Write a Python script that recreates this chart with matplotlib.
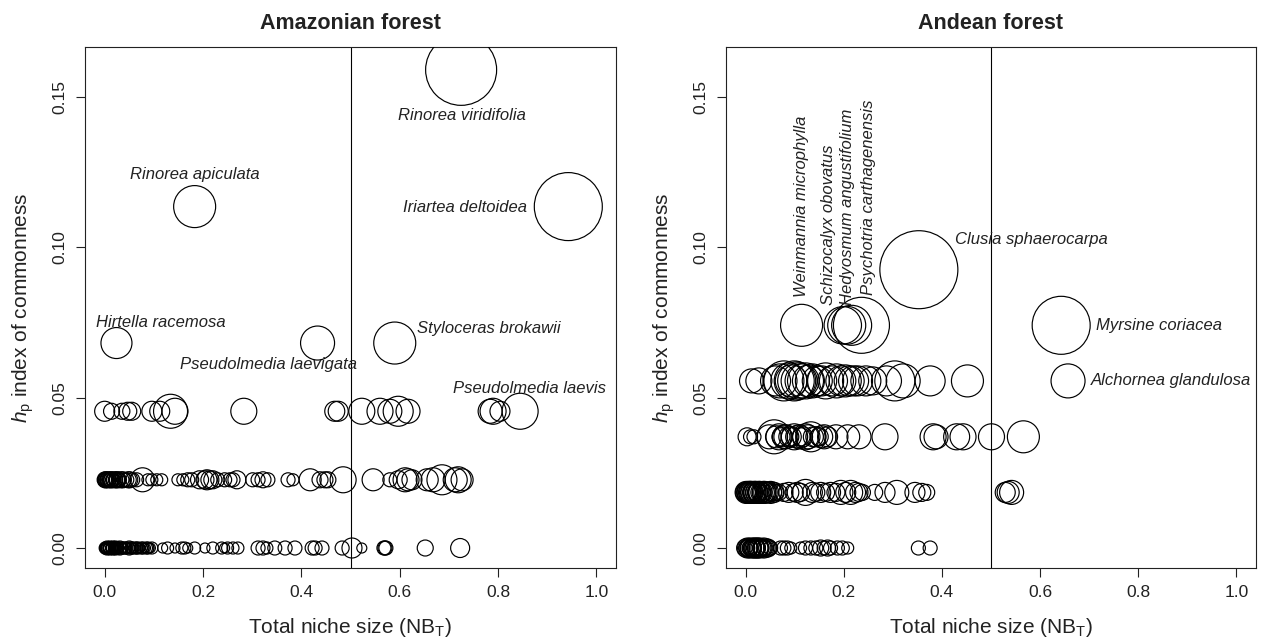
import matplotlib
matplotlib.use("Agg")
import matplotlib.pyplot as plt
import numpy as np

plt.rcParams['font.family'] = ['Liberation Sans', 'DejaVu Sans']
plt.rcParams['mathtext.fontset'] = 'custom'
plt.rcParams['mathtext.rm'] = 'Liberation Sans'
plt.rcParams['mathtext.it'] = 'Liberation Sans:italic'

# ---------------- Amazonian forest ----------------
amz_hp = [0.0, 0.0227, 0.0455, 0.0682, 0.1136, 0.1591]

amz0_x = [0.000, 0.003, 0.006, 0.008, 0.010, 0.012, 0.015, 0.018, 0.020, 0.023, 0.026,
          0.030, 0.033, 0.037, 0.040, 0.044, 0.048, 0.052, 0.056, 0.060, 0.065, 0.070,
          0.075, 0.080, 0.085, 0.090, 0.096,
          0.001, 0.002, 0.004, 0.005, 0.007, 0.009, 0.011, 0.013, 0.014, 0.016, 0.017,
          0.019, 0.021, 0.022, 0.024, 0.025, 0.027, 0.028, 0.031, 0.035, 0.038, 0.042,
          0.046, 0.050, 0.054, 0.058, 0.062, 0.068, 0.072, 0.078, 0.083, 0.088, 0.093,
          0.118, 0.128, 0.143, 0.157, 0.163, 0.169, 0.183,
          0.204, 0.220, 0.238, 0.244, 0.250, 0.261, 0.271,
          0.312, 0.322, 0.330, 0.346, 0.367, 0.387,
          0.422, 0.428, 0.442, 0.483, 0.503, 0.523,
          0.568, 0.570, 0.572, 0.652, 0.723]
amz0_r = [5, 5, 6, 5, 6, 5, 6, 5, 6, 5, 6,
          5, 6, 5, 6, 5, 6, 5, 6, 5, 6, 5,
          6, 5, 6, 5, 6,
          6, 5, 6, 7, 5, 6, 7, 5, 6, 6, 7,
          5, 6, 7, 5, 6, 6, 5, 7, 6, 5, 6,
          5, 7, 6, 5, 6, 6, 5, 6, 5, 6, 5,
          5, 6, 5, 6, 6, 5, 6,
          5, 6, 6, 5, 6, 6, 6,
          7, 7, 6, 7, 7, 7,
          7, 7, 7, 7, 10, 5,
          7, 7, 7, 8, 9.5]

amz1_x = [0.000, 0.004, 0.010, 0.016, 0.024, 0.030, 0.037, 0.045, 0.051, 0.057, 0.065,
          0.001, 0.002, 0.003, 0.006, 0.007, 0.008, 0.012, 0.013, 0.014, 0.018, 0.020,
          0.022, 0.026, 0.028, 0.033, 0.040, 0.048,
          0.077, 0.088, 0.096, 0.106, 0.116,
          0.149, 0.159, 0.169, 0.177,
          0.193, 0.204, 0.208, 0.214, 0.220,
          0.230, 0.244, 0.255, 0.261, 0.269,
          0.301, 0.312, 0.322, 0.332, 0.373, 0.383,
          0.418, 0.438, 0.448, 0.454, 0.485,
          0.546, 0.580, 0.597, 0.611, 0.617, 0.625,
          0.656, 0.668, 0.686, 0.713, 0.719, 0.727]
amz1_r = [7, 7, 7, 7, 8, 7, 8, 7, 8, 7, 7,
          8, 7, 8, 7, 8, 7, 8, 7, 8, 7, 8,
          7, 8, 7, 8, 7, 8,
          12, 6, 6, 6, 6,
          6, 6, 7, 7,
          9, 9, 10, 9, 9,
          7, 7, 7, 7, 9,
          7, 7, 8, 7, 7, 6,
          11, 8, 8, 8, 13,
          11, 7, 9, 12, 11, 10,
          11, 12, 15, 12, 13, 11]

amz2_x = [0.000, 0.014, 0.035, 0.047, 0.055, 0.096, 0.112, 0.134, 0.143, 0.283,
          0.468, 0.475, 0.523, 0.560, 0.580, 0.597, 0.617, 0.784, 0.790, 0.804, 0.845]
amz2_r = [10, 8, 8, 9, 9, 10, 10, 17, 13, 13,
          10, 10, 13, 13, 12, 15, 12, 12, 13, 10, 18]

amz3_x = [0.024, 0.433, 0.590]
amz3_r = [15.5, 17, 21]
amz5_x = [0.183, 0.943]
amz5_r = [21, 34]
amz7_x = [0.725]
amz7_r = [35.5]

amz_labels = ["Rinorea viridifolia", "Rinorea apiculata", "Iriartea deltoidea",
              "Hirtella racemosa", "Pseudolmedia laevigata", "Styloceras brokawii",
              "Pseudolmedia laevis"]
amz_label_xy = [(0.727, 0.1440), (0.183, 0.1244), (0.859, 0.1134), (-0.018, 0.0752),
                (0.334, 0.0609), (0.635, 0.0732), (0.709, 0.0532)]
amz_label_ha = ["center", "center", "right", "left", "center", "left", "left"]

# ---------------- Andean forest ----------------
and_hp = [0.0, 0.0185, 0.0370, 0.0556, 0.0741, 0.0926]

and0_x = [0.007, 0.012, 0.017, 0.022, 0.027, 0.033, 0.037, 0.042, 0.051, 0.071, 0.078,
          0.000, 0.002, 0.004, 0.005, 0.009, 0.010, 0.014, 0.015, 0.019, 0.020, 0.024,
          0.025, 0.029, 0.030, 0.035, 0.039, 0.045, 0.047,
          0.085, 0.092, 0.112, 0.122, 0.133, 0.143, 0.153, 0.160, 0.167, 0.173, 0.187,
          0.197, 0.208, 0.352, 0.376]
and0_r = [9, 9, 10, 9, 10, 9, 10, 9, 7, 7, 7,
          9, 8, 10, 9, 8, 10, 9, 8, 10, 9, 8,
          10, 9, 8, 9, 8, 9, 8,
          7, 6, 6, 7, 7, 7, 8, 7, 8, 7, 7,
          7, 6, 7, 7]

and1_x = [0.003, 0.008, 0.014, 0.019, 0.024, 0.029, 0.034, 0.039, 0.044, 0.051,
          0.000, 0.001, 0.002, 0.005, 0.006, 0.010, 0.011, 0.012, 0.016, 0.017,
          0.021, 0.022, 0.026, 0.027, 0.031, 0.036, 0.041, 0.047, 0.055, 0.058,
          0.061, 0.068, 0.078, 0.088, 0.099, 0.105, 0.112, 0.122, 0.136, 0.143,
          0.153, 0.163, 0.173, 0.184, 0.194, 0.204, 0.214, 0.224, 0.231, 0.238,
          0.263, 0.284, 0.308, 0.345, 0.359, 0.369, 0.529, 0.535, 0.542]
and1_r = [10, 11, 10, 11, 10, 11, 10, 11, 10, 11,
          10, 11, 10, 11, 10, 11, 10, 11, 10, 11,
          10, 11, 10, 11, 10, 11, 10, 10, 9, 10,
          8, 8, 9, 10, 9, 10, 9, 13, 10, 9,
          10, 9, 10, 9, 12, 10, 12, 10, 9, 8,
          8, 10, 12, 10, 9, 8, 10, 11, 12]

and2_x = [0.003, 0.010, 0.017, 0.048, 0.058, 0.068, 0.075, 0.082, 0.088, 0.099,
          0.109, 0.116, 0.122, 0.133, 0.143, 0.150, 0.160, 0.167, 0.184, 0.208,
          0.063, 0.072, 0.079, 0.093, 0.104, 0.113, 0.127, 0.138, 0.155,
          0.231, 0.284, 0.382, 0.388, 0.430, 0.443, 0.501, 0.566]
and2_r = [9, 7, 7, 12, 17, 13, 10, 12, 10, 13,
          12, 10, 13, 15, 10, 9, 12, 10, 12, 12,
          11, 9, 12, 10, 11, 9, 12, 10, 11,
          12, 13, 13, 12, 13, 13, 13, 16]

and3_x = [0.012, 0.027, 0.061, 0.078, 0.088, 0.099, 0.109, 0.122, 0.136, 0.146,
          0.070, 0.093, 0.104, 0.115, 0.128, 0.155, 0.185, 0.203, 0.220,
          0.163, 0.177, 0.194, 0.211, 0.228, 0.245, 0.259, 0.287, 0.304, 0.321,
          0.376, 0.452, 0.657]
and3_r = [12, 13, 15, 20, 18, 20, 18, 18, 17, 15,
          17, 16, 19, 17, 16, 15, 17, 16, 15,
          18, 15, 15, 15, 15, 15, 14, 15, 20, 17,
          15, 16, 17]

and4_x = [0.114, 0.198, 0.206, 0.216, 0.236, 0.643]
and4_r = [21, 18.7, 19, 20, 28, 29]
and5_x = [0.353]
and5_r = [39]

and_labels = ["Clusia sphaerocarpa", "Myrsine coriacea", "Alchornea glandulosa"]
and_label_xy = [(0.427, 0.1028), (0.714, 0.0742), (0.704, 0.0556)]
and_vlabels = ["Weinmannia microphylla", "Schizocalyx obovatus",
               "Hedyosmum angustifolium", "Psychotria carthagenensis"]
and_vlabel_xy = [(0.114, 0.0835), (0.169, 0.0810), (0.208, 0.0810), (0.251, 0.0842)]

xticks = [0.0, 0.2, 0.4, 0.6, 0.8, 1.0]
xticklabels = ["0.0", "0.2", "0.4", "0.6", "0.8", "1.0"]
yticks = [0.0, 0.05, 0.10, 0.15]
yticklabels = ["0.00", "0.05", "0.10", "0.15"]

# ---------------- figure ----------------
W, H = 1263, 640
fig = plt.figure(figsize=(W / 100, H / 100), dpi=100)
ax1 = fig.add_axes([85 / W, (H - 568) / H, 531 / W, 521 / H])
ax2 = fig.add_axes([726 / W, (H - 568) / H, 530 / W, 521 / H])

PX2PT = 72 / 100.0


def bubbles(ax, xs, y, rs):
    rs = np.asarray(rs, dtype=float)
    sizes = (2 * rs * PX2PT) ** 2
    ax.scatter(xs, [y] * len(xs), s=sizes, facecolors='none',
               edgecolors='black', linewidths=0.85, zorder=3)


amz_rows = [(amz0_x, amz_hp[0], amz0_r), (amz1_x, amz_hp[1], amz1_r),
            (amz2_x, amz_hp[2], amz2_r), (amz3_x, amz_hp[3], amz3_r),
            (amz5_x, amz_hp[4], amz5_r), (amz7_x, amz_hp[5], amz7_r)]
and_rows = [(and0_x, and_hp[0], and0_r), (and1_x, and_hp[1], and1_r),
            (and2_x, and_hp[2], and2_r), (and3_x, and_hp[3], and3_r),
            (and4_x, and_hp[4], and4_r), (and5_x, and_hp[5], and5_r)]

for ax, rows, title in [(ax1, amz_rows, "Amazonian forest"),
                        (ax2, and_rows, "Andean forest")]:
    for xs, y, rs in rows:
        bubbles(ax, xs, y, rs)
    ax.axvline(0.5, color='black', lw=0.8, zorder=2)
    ax.set_xlim(-0.04, 1.04)
    ax.set_ylim(-0.00665, 0.1667)
    ax.set_xticks(xticks)
    ax.set_xticklabels(xticklabels)
    ax.set_yticks(yticks)
    ax.set_yticklabels(yticklabels, rotation=90, va='center')
    ax.tick_params(axis='both', length=6.5, width=0.8, labelsize=12.5,
                   colors='#222222', pad=6)
    for sp in ax.spines.values():
        sp.set_linewidth(0.8)
        sp.set_color('#222222')
    ax.set_title(title, fontsize=15.5, fontweight='bold', pad=13, color='#222222')
    ax.set_xlabel(r"Total niche size (NB$_\mathrm{T}$)", fontsize=15, color='#222222')
    ax.set_ylabel(r"$h_\mathrm{p}$ index of commonness", fontsize=15, color='#222222')
    ax.xaxis.set_label_coords(0.5, -0.092)
    ax.yaxis.set_label_coords(-0.093, 0.5)

for lab, (lx, ly), ha in zip(amz_labels, amz_label_xy, amz_label_ha):
    ax1.text(lx, ly, lab, style='italic', fontsize=12, ha=ha, va='center',
             color='#222222', zorder=4)

for lab, (lx, ly) in zip(and_labels, and_label_xy):
    ax2.text(lx, ly, lab, style='italic', fontsize=12, ha='left', va='center',
             color='#222222', zorder=4)
for lab, (lx, ly) in zip(and_vlabels, and_vlabel_xy):
    ax2.text(lx, ly, lab, style='italic', fontsize=12, ha='center', va='bottom',
             rotation=90, color='#222222', zorder=4)

fig.savefig("out.png", dpi=100)
